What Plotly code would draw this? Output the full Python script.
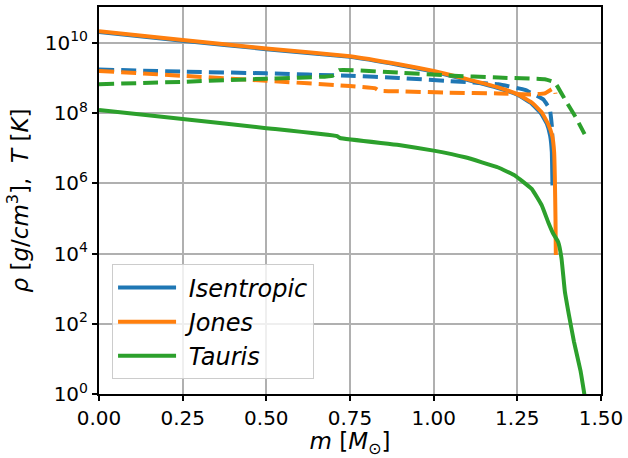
import plotly.graph_objects as go

# ---- data (log10 of value) ----
iso_rho_m = [0.0, 0.25, 0.5, 0.75, 0.896, 1.0, 1.094, 1.193, 1.25, 1.293, 1.32, 1.338, 1.348, 1.353, 1.355]
iso_rho_lg = [10.31, 10.06, 9.82, 9.60, 9.37, 9.18, 8.96, 8.71, 8.52, 8.27, 8.0, 7.7, 7.36, 6.9, 5.94]

iso_T_m = [0.0, 0.25, 0.5, 0.75, 0.896, 1.045, 1.193, 1.273, 1.327, 1.347, 1.354, 1.355]
iso_T_lg = [9.24, 9.18, 9.13, 9.06, 9.0, 8.91, 8.82, 8.66, 8.39, 8.11, 7.54, 7.0]

jon_rho_m = [0.0, 0.25, 0.5, 0.75, 0.896, 1.0, 1.094, 1.193, 1.25, 1.293, 1.323, 1.342, 1.354, 1.360, 1.362, 1.364, 1.365]
jon_rho_lg = [10.33, 10.08, 9.84, 9.62, 9.39, 9.2, 8.98, 8.73, 8.54, 8.3, 8.02, 7.69, 7.36, 6.88, 6.2, 5.0, 3.96]

jon_T_m = [0.0, 0.25, 0.5, 0.75, 0.826, 0.836, 0.896, 1.045, 1.193, 1.293, 1.332, 1.357, 1.362, 1.364]
jon_T_lg = [9.2, 9.06, 8.92, 8.77, 8.7, 8.64, 8.62, 8.58, 8.56, 8.53, 8.56, 8.7, 8.66, 8.55]

tau_rho_m = [0.0, 0.25, 0.5, 0.712, 0.72, 0.896, 1.0, 1.094, 1.193, 1.243, 1.293, 1.323, 1.342, 1.357, 1.372, 1.382, 1.392, 1.404, 1.419, 1.439, 1.451]
tau_rho_lg = [8.09, 7.83, 7.57, 7.34, 7.29, 7.09, 6.93, 6.74, 6.45, 6.22, 5.84, 5.37, 4.9, 4.57, 4.33, 3.86, 2.92, 2.26, 1.5, 0.65, -0.05]

tau_T_m = [0.0, 0.25, 0.5, 0.697, 0.717, 0.896, 1.045, 1.193, 1.332, 1.362, 1.392, 1.422, 1.451]
tau_T_lg = [8.82, 8.89, 8.98, 9.06, 9.22, 9.15, 9.07, 9.01, 8.96, 8.87, 8.39, 7.92, 7.4]

x_ticks = [0.0, 0.25, 0.5, 0.75, 1.0, 1.25, 1.5]
x_tick_labels = ["0.00", "0.25", "0.50", "0.75", "1.00", "1.25", "1.50"]
y_tick_exps = [0, 2, 4, 6, 8, 10]

BLUE = "#1f77b4"
ORANGE = "#ff7f0e"
GREEN = "#2ca02c"
LW = 4
DASH = "15px,7px"


def pw(vals):
    return [10 ** v for v in vals]


fig = go.Figure()
series = [
    ("Isentropic", BLUE, iso_rho_m, iso_rho_lg, iso_T_m, iso_T_lg),
    ("Jones", ORANGE, jon_rho_m, jon_rho_lg, jon_T_m, jon_T_lg),
    ("Tauris", GREEN, tau_rho_m, tau_rho_lg, tau_T_m, tau_T_lg),
]
for name, col, rm, rl, tm, tl in series:
    fig.add_trace(go.Scatter(x=rm, y=pw(rl), mode="lines",
                             name=f"&nbsp;<i>{name}</i>",
                             line=dict(color=col, width=LW, shape="spline", smoothing=0.3)))
    fig.add_trace(go.Scatter(x=tm, y=pw(tl), mode="lines", showlegend=False,
                             line=dict(color=col, width=LW, dash=DASH, shape="spline", smoothing=0.3)))

fig.update_layout(
    width=628, height=458,
    margin=dict(l=99, r=25, t=5, b=64),
    paper_bgcolor="white", plot_bgcolor="white",
    font=dict(family="DejaVu Sans", size=20, color="black"),
    showlegend=True,
    legend=dict(
        x=0.026, y=0.335, xanchor="left", yanchor="top",
        bgcolor="rgba(255,255,255,0.8)", bordercolor="#cccccc", borderwidth=1,
        font=dict(size=24, family="DejaVu Sans"),
        itemwidth=58,
    ),
)
fig.update_xaxes(
    range=[0, 1.5], tickmode="array", tickvals=x_ticks, ticktext=x_tick_labels,
    showgrid=True, gridcolor="#b0b0b0", gridwidth=1.6,
    showline=True, linecolor="black", linewidth=2, mirror=True,
    ticks="outside", ticklen=5, tickwidth=1.5, tickcolor="black",
    zeroline=False,
    title=dict(text="<i>m</i> [<i>M</i><sub>⊙</sub>]", font=dict(size=23), standoff=4),
)
fig.update_yaxes(
    type="log", range=[0, 11.02], tickmode="array",
    tickvals=[10 ** e for e in y_tick_exps],
    ticktext=[f"10<sup>{e}</sup>" for e in y_tick_exps],
    showgrid=True, gridcolor="#b0b0b0", gridwidth=1.6,
    showline=True, linecolor="black", linewidth=2, mirror=True,
    ticks="outside", ticklen=5, tickwidth=1.5, tickcolor="black",
    zeroline=False,
    title=dict(text="<i>ρ</i> [<i>g</i>/<i>cm</i><sup>3</sup>],  <i>T</i> [<i>K</i>]",
               font=dict(size=23), standoff=10),
)

fig.write_html("out.html")
